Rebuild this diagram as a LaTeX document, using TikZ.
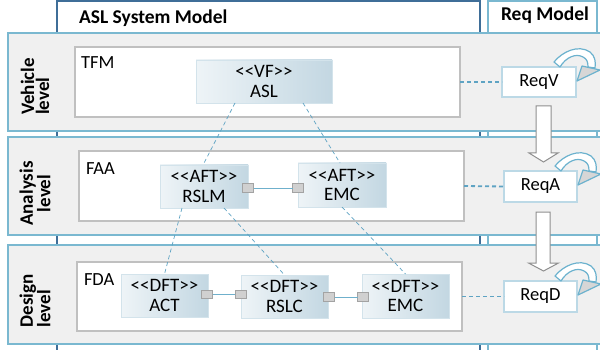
\documentclass[tikz,border=0pt]{standalone}
\usepackage{fontspec}
\setmainfont{Carlito}
\begin{document}

\definecolor{bandfill}{HTML}{F0F0F0}
\definecolor{bandline}{HTML}{7AB8D0}
\definecolor{aslline}{HTML}{3F6E98}
\definecolor{reqcol}{HTML}{7AB8D0}
\definecolor{boxline}{HTML}{C0C0C0}
\definecolor{elemL}{HTML}{EEF4F7}
\definecolor{elemR}{HTML}{C3D7E2}
\definecolor{elemline}{HTML}{D3E3EB}
\definecolor{tracec}{HTML}{5EA3C3}
\definecolor{linkblue}{HTML}{6FB0CC}
\definecolor{portfill}{HTML}{D0D0D0}
\definecolor{portline}{HTML}{A3A3A3}
\definecolor{reqline}{HTML}{BCD9E6}
\definecolor{arrgray}{HTML}{8F8F8F}
\definecolor{cycline}{HTML}{6CB2CE}
\definecolor{cychead}{HTML}{D6D6D6}

\newcommand\uifont{\fontsize{18.5}{17}\selectfont}
\newcommand\elemtext{\fontsize{19}{19.5}\selectfont}
\newcommand\uibold{\fontsize{19.5}{17}\selectfont\bfseries}
\newcommand\lvlfont{\fontsize{19}{15}\selectfont\bfseries}

\tikzset{
  loopback/.pic={
    % curved hollow arrow turning back onto the requirement box
    \draw[fill=white,draw=cycline,line width=1.2pt,line join=round]
      (-22,-5) .. controls (-14,-15) and (2,-23) .. (14,-15)
      .. controls (19,-11) and (20,-5) .. (19,1)
      -- (12,0) .. controls (12,-5) and (11,-8) .. (7,-10)
      .. controls (0,-14) and (-10,-10) .. (-16,0) -- cycle;
    \draw[fill=cychead,draw=cycline,line width=1.2pt,line join=round]
      (6,-1) -- (24,3) -- (1,14) -- cycle;
  }
}

\begin{tikzpicture}[x=1pt,y=-1pt,
  every node/.style={inner sep=0pt,outer sep=0pt},
  band/.style={fill=bandfill,draw=bandline,line width=1.6pt},
  container/.style={fill=white,draw=boxline,line width=1.2pt},
  elem/.style={left color=elemL,right color=elemR,draw=elemline,line width=0.8pt,
    align=center,font=\elemtext},
  port/.style={fill=portfill,draw=portline,line width=0.6pt,
    minimum width=11pt,minimum height=8.5pt},
  portlink/.style={draw=linkblue,line width=0.9pt},
  trace/.style={draw=tracec,line width=0.7pt,dash pattern=on 4pt off 3pt},
  reqlink/.style={draw=tracec,line width=1.8pt,dash pattern=on 4pt off 3pt},
  reqbox/.style={fill=white,draw=reqline,line width=1.2pt,font=\uifont},
  blockarr/.style={fill=white,draw=arrgray,line width=1pt,line join=miter},
  lvl/.style={rotate=90,font=\lvlfont},
  tab/.style={font=\uibold,anchor=base west},
  boxtitle/.style={font=\uifont,anchor=base west}]

\clip (0,0) rectangle (600,350);
\fill[white] (0,0) rectangle (600,350);

% model columns
\draw[fill=white,draw=aslline,line width=1.2pt] (57,1) rectangle (480,360);
\draw[fill=white,draw=reqcol,line width=1.5pt] (488,1) rectangle (597,360);
\node[tab] (aslhdr) at (79,23.3) {ASL System Model};
\node[tab] (reqhdr) at (501,20.7) {Req Model};

% abstraction level bands
\draw[band] (8,33) rectangle (610,131);
\draw[band] (8,137) rectangle (610,235);
\draw[band] (8,245) rectangle (610,344);
\node[lvl,align=left] (lv) at (35,86.5) {Vehicle\\level};
\node[lvl,align=center] (la) at (35,193.5) {Analysis\\level};
\node[lvl,align=left] (ld) at (35,301) {Design\\level};

% containers
\node[container,minimum width=385pt,minimum height=70pt] (tfm) at (267.5,82) {};
\node[container,minimum width=385pt,minimum height=70pt] (faa) at (271.5,186) {};
\node[container,minimum width=385pt,minimum height=69pt] (fda) at (269.5,296.5) {};
\node[boxtitle] at (81,69) {TFM};
\node[boxtitle] at (86,175) {FAA};
\node[boxtitle] at (84,285) {FDA};

% functional elements
\node[elem,minimum width=136pt,minimum height=43pt] (asl) at (264,81.5) {<{}<VF>{}>\\ASL};
\node[elem,minimum width=88pt,minimum height=43pt] (rslm) at (204,186.5) {<{}<AFT>{}>\\RSLM};
\node[elem,minimum width=88pt,minimum height=44pt] (emca) at (342,185) {<{}<AFT>{}>\\EMC};
\node[elem,minimum width=87pt,minimum height=43pt] (act) at (164.5,295.5) {<{}<DFT>{}>\\ACT};
\node[elem,minimum width=87pt,minimum height=43pt] (rslc) at (284.5,296.5) {<{}<DFT>{}>\\RSLC};
\node[elem,minimum width=87pt,minimum height=44pt] (emcd) at (405.5,296) {<{}<DFT>{}>\\EMC};

% refinement traces
\draw[trace] ([xshift=-29pt]asl.south) -- ([xshift=-1pt]rslm.north);
\draw[trace] ([xshift=39pt]asl.south) -- ([xshift=-2pt]emca.north);
\draw[trace] ([xshift=-22pt]rslm.south) -- (act.north);
\draw[trace] ([xshift=20pt]rslm.south) -- (rslc.north);
\draw[trace] (emca.south) -- (emcd.north);

% ports and connections
\node[port] (p1) at (248,188) {};
\node[port] (p2) at (298,188) {};
\node[port] (p3) at (207,294.5) {};
\node[port] (p4) at (240.5,294.5) {};
\node[port] (p5) at (329,297) {};
\node[port] (p6) at (363,297) {};
\draw[portlink] (p1.east) -- (p2.west);
\draw[portlink] (p3.east) -- (p4.west);
\draw[portlink] (p5.east) -- (p6.west);

% requirements
\node[reqbox,minimum width=74pt,minimum height=30pt] (reqv) at (539,82) {ReqV};
\node[reqbox,minimum width=73pt,minimum height=31pt] (reqa) at (540.5,186.5) {ReqA};
\node[reqbox,minimum width=73pt,minimum height=31pt] (reqd) at (540.5,296.5) {ReqD};
\draw[reqlink] (tfm.east) -- (reqv.west);
\draw[reqlink] (faa.east) -- (reqa.west);
\draw[reqlink] (fda.east) -- (reqd.west);

% derivation arrows between requirement levels
\draw[blockarr] ([shift={(-3,9)}]reqv.south) -- ++(15,0) -- ++(0,47) -- ++(7,0)
  -- ++(-14.5,9) -- ++(-14.5,-9) -- ++(7,0) -- cycle;
\draw[blockarr] ([shift={(-4.5,10)}]reqa.south) -- ++(14,0) -- ++(0,51) -- ++(8.5,0)
  -- ++(-15,8) -- ++(-15,-8) -- ++(7.5,0) -- cycle;

\pic at (reqv.north east) {loopback};
\pic at (reqa.north east) {loopback};
\pic at (reqd.north east) {loopback};

\end{tikzpicture}
\end{document}
